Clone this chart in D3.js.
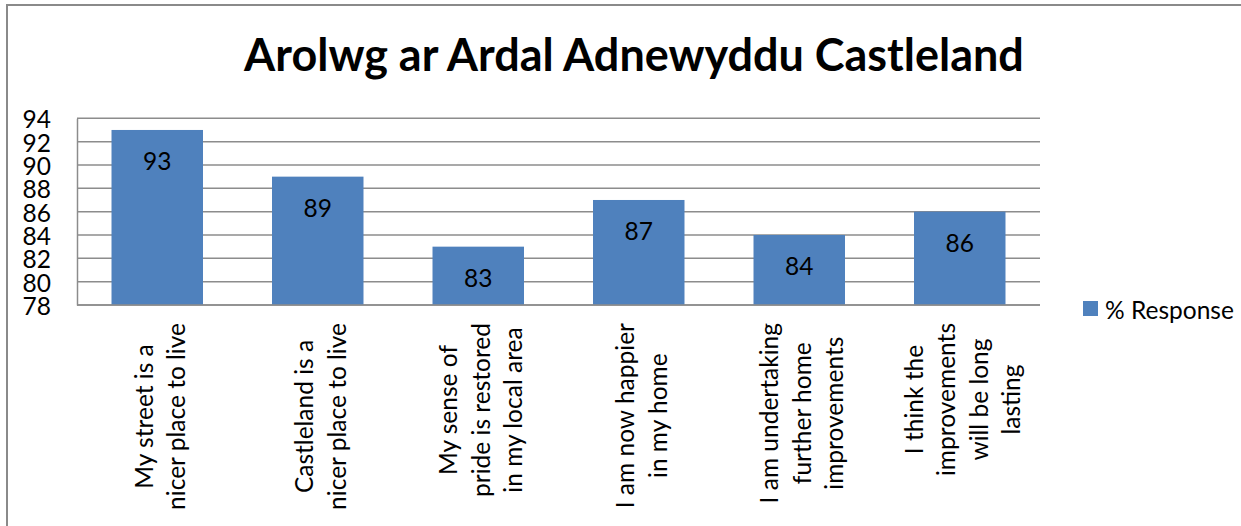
<!DOCTYPE html>
<html>
<head>
<meta charset="utf-8">
<script src="https://cdn.jsdelivr.net/npm/d3@7"></script>
<style>
  body { margin: 0; background: #fff; }
  text { font-family: Lato, "Open Sans", sans-serif; fill: #000; }
</style>
</head>
<body>
<div id="chart"></div>
<script>
// data
var titleText = "Arolwg ar Ardal Adnewyddu Castleland";
var seriesName = "% Response";
var categories = [
    ["My street is a", "nicer place to live"],
    ["Castleland is a", "nicer place to live"],
    ["My sense of", "pride is restored", "in my local area"],
    ["I am now happier", "in my home"],
    ["I am undertaking", "further home", "improvements"],
    ["I think the", "improvements", "will be long", "lasting"]
];
var responses = [93, 89, 83, 87, 84, 86];
var yTicks = [78, 80, 82, 84, 86, 88, 90, 92, 94];

var W = 1241, H = 526;
var svg = d3.select("#chart").append("svg")
    .attr("width", W)
    .attr("height", H);

// outer chart border (runs off the right / bottom edge like the screenshot)
svg.append("rect")
    .attr("x", 7).attr("y", 5)
    .attr("width", W + 20).attr("height", H + 20)
    .attr("fill", "none")
    .attr("stroke", "#8a8a8a")
    .attr("stroke-width", 2);

// fit a font size so a sample string gets a given width
function fitSize(str, target, weight) {
    var t = svg.append("text").attr("font-size", 100).attr("font-weight", weight || "normal").text(str);
    var w = t.node().getComputedTextLength();
    t.remove();
    return 100 * target / w;
}
var fs = fitSize("nicer place to live", 187);
var titleFs = fitSize(titleText, 780, "bold");

var plotLeft = 77, plotRight = 1040, plotTop = 118.3, plotBottom = 305;

var x = d3.scaleBand()
    .domain(d3.range(categories.length))
    .range([plotLeft, plotRight])
    .paddingInner(0.43)
    .paddingOuter(0.215);
var y = d3.scaleLinear()
    .domain([78, 94])
    .range([plotBottom, plotTop]);

// title
svg.append("text")
    .attr("x", 634).attr("y", 71)
    .attr("text-anchor", "middle")
    .attr("font-weight", "bold")
    .attr("font-size", titleFs)
    .text(titleText);

// gridlines
svg.append("g").selectAll("line")
    .data(yTicks)
    .enter().append("line")
    .attr("x1", plotLeft).attr("x2", plotRight)
    .attr("y1", function (d) { return y(d); })
    .attr("y2", function (d) { return y(d); })
    .attr("stroke", "#8c8c8c")
    .attr("stroke-width", 1.5);

// y axis
var yAxis = svg.append("g")
    .attr("transform", "translate(" + plotLeft + ",0)")
    .call(d3.axisLeft(y).tickValues(yTicks).tickSize(0).tickPadding(26));
yAxis.select(".domain").attr("stroke", "#8c8c8c").attr("stroke-width", 1.5);
yAxis.selectAll("text")
    .attr("font-size", fs)
    .attr("font-family", "Lato")
    .attr("fill", "#000")
    .attr("dy", null)
    .attr("dominant-baseline", "central");

// bars
svg.append("g").selectAll("rect")
    .data(responses)
    .enter().append("rect")
    .attr("x", function (d, i) { return x(i); })
    .attr("y", function (d) { return y(d); })
    .attr("width", x.bandwidth())
    .attr("height", function (d) { return plotBottom - y(d); })
    .attr("fill", "#4f81bd");

// value labels
svg.append("g").selectAll("text")
    .data(responses)
    .enter().append("text")
    .attr("x", function (d, i) { return x(i) + x.bandwidth() / 2; })
    .attr("y", function (d) { return y(d) + 30.5; })
    .attr("text-anchor", "middle")
    .attr("dominant-baseline", "central")
    .attr("font-size", fs)
    .text(function (d) { return d; });

// x axis line
svg.append("line")
    .attr("x1", plotLeft).attr("x2", plotRight)
    .attr("y1", plotBottom).attr("y2", plotBottom)
    .attr("stroke", "#8c8c8c")
    .attr("stroke-width", 1.5);

// rotated category labels, lines centred on each other, block top at y=323
var lineGap = 32.5, labelTop = 323;
categories.forEach(function (lines, i) {
    var g = svg.append("g");
    var widths = lines.map(function (s) {
        var t = g.append("text").attr("font-size", fs).text(s);
        var w = t.node().getComputedTextLength();
        t.remove();
        return w;
    });
    var maxW = d3.max(widths);
    var cx = x(i) + x.bandwidth() / 2 + 2;
    g.attr("transform", "translate(" + cx + "," + (labelTop + maxW / 2) + ") rotate(-90)");
    g.selectAll("text")
        .data(lines)
        .enter().append("text")
        .attr("x", 0)
        .attr("y", function (d, j) { return (j - (lines.length - 1) / 2) * lineGap; })
        .attr("text-anchor", "middle")
        .attr("dominant-baseline", "central")
        .attr("font-size", fs)
        .text(function (d) { return d; });
});

// legend
var legend = svg.append("g").attr("transform", "translate(1083,301)");
legend.append("rect")
    .attr("width", 15).attr("height", 15)
    .attr("fill", "#4f81bd");
legend.append("text")
    .attr("x", 22).attr("y", 8)
    .attr("dominant-baseline", "central")
    .attr("font-size", fs)
    .text(seriesName);
</script>
</body>
</html>
